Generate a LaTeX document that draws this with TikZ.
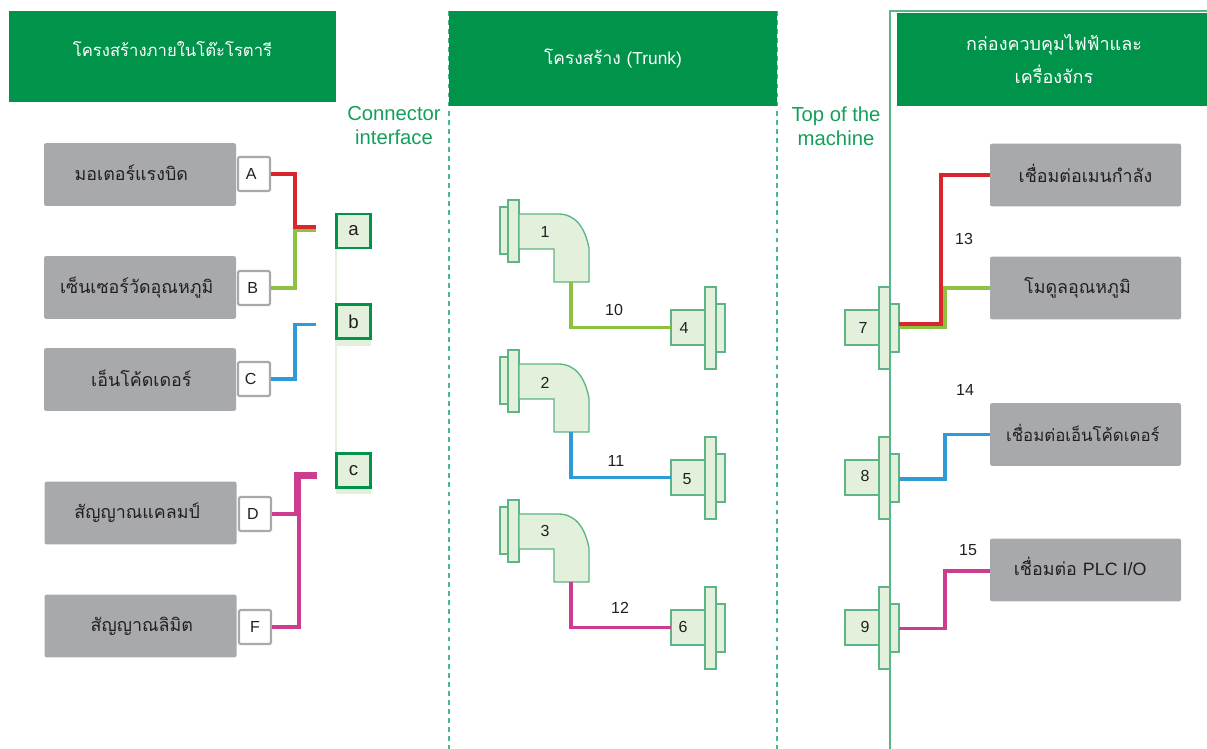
\documentclass[tikz,border=0pt]{standalone}
\usepackage{fontspec}
\setmainfont{Liberation Sans}
\newfontfamily\thaifont[Script=Thai]{Loma}
\usetikzlibrary{positioning}
\definecolor{hdr}{HTML}{00934A}
\definecolor{txtgreen}{HTML}{14A05A}
\definecolor{greybox}{HTML}{A7A9AC}
\definecolor{ink}{HTML}{231F20}
\definecolor{pale}{HTML}{E2F0DC}
\definecolor{edge}{HTML}{5DB585}
\definecolor{sred}{HTML}{D9252E}
\definecolor{sgreen}{HTML}{8DC13F}
\definecolor{sblue}{HTML}{2F9BD6}
\definecolor{smag}{HTML}{CC3D90}
\definecolor{dashc}{HTML}{4DB58F}
\newcommand{\greytext}[2]{\raisebox{2.2pt}{\hspace*{#1pt}#2}}
\tikzset{
 x=0.75pt,y=-0.75pt,
 header/.style={fill=hdr,draw=none,text=white,font=\thaifont\fontsize{13.5}{25}\selectfont,align=center,inner sep=0},
 greyb/.style={fill=greybox,draw=none,rounded corners=1.5pt,minimum width=144pt,minimum height=47pt,inner sep=0,text=ink,font=\thaifont\fontsize{13.4}{15}\selectfont},
 letterb/.style={fill=white,draw=greybox,line width=1.6pt,rounded corners=1pt,minimum width=24pt,minimum height=25.5pt,inner sep=0,text=ink,font=\fontsize{12}{14}\selectfont},
 ifaceb/.style={fill=pale,draw=hdr,line width=1.6pt,minimum width=25.5pt,minimum height=25.5pt,inner sep=0,text=ink,font=\fontsize{14}{16}\selectfont},
 partb/.style={fill=pale,draw=edge,line width=1pt},
 partnum/.style={text=ink,font=\fontsize{12}{14}\selectfont,inner sep=0},
 captext/.style={text=txtgreen,font=\fontsize{15.2}{18}\selectfont,align=center,inner sep=0},
 wire/.style={line width=2.6pt,line join=miter},
 guide/.style={draw=dashc,line width=1pt,dash pattern=on 3.6pt off 3.2pt},
 portpic/.pic={
  \draw[partb] (0,-17.5) rectangle (34,17.5);
  \draw[partb] (34,-40.5) rectangle (45,41.5);
  \draw[partb] (45,-23.5) rectangle (54,24.5);
  \coordinate (-in) at (0,0);
 },
 elbowpic/.pic={
  \draw[partb] (0,7) rectangle (8,54);
  \draw[partb] (8,0) rectangle (19,62);
  \draw[partb] (19,14) -- (58,14) .. controls (76,14) and (85,28) .. (89,48) -- (89,82) -- (54,82) -- (54,49) -- (19,49) -- cycle;
  \coordinate (-out) at (71,82);
 },
}
\begin{document}
\begin{tikzpicture}
\useasboundingbox (0,0) rectangle (1207,749);
\fill[white] (0,0) rectangle (1207,749);
% guides
\coordinate (gl1t) at (449,11);
\coordinate (gl1b) at (449,749);
\coordinate (gl2t) at (777,11);
\coordinate (gl2b) at (777,749);
\draw[guide] (gl1t) -- (gl1b);
\draw[guide] (gl2t) -- (gl2b);
\draw[edge,line width=1.1pt] (890,749) -- (890,11) -- (1207,11);
% headers
\node[header,minimum width=245.25pt,minimum height=68.25pt] (h1) at (172.5,56.5) {\raisebox{11.5pt}{\fontsize{12.5}{22}\selectfont โครงสร้างภายในโต๊ะโรตารี}};
\node[header,minimum width=246pt,minimum height=71.25pt] (h2) at (613,58.5) {\raisebox{2.5pt}{\fontsize{13}{22}\selectfont โครงสร้าง {\fontspec{Liberation Sans}(Trunk)}}};
\node[header,minimum width=232.5pt,minimum height=69.75pt] (h3) at (1052,59.5) {\raisebox{16pt}{\parbox{200pt}{\centering\hspace*{3pt}กล่องควบคุมไฟฟ้าและ\\\hspace*{3pt}เครื่องจักร}}};
% captions
\node[captext] (capL) at (394,126) {Connector\\interface};
\node[captext] (capR) at (836,126) {Top of the\\machine};
% left boxes
\node[greyb] (gA) at (140,174.5) {\greytext{-13}{มอเตอร์แรงบิด}};
\node[greyb] (gB) at (140,287.5) {\greytext{-5}{เซ็นเซอร์วัดอุณหภูมิ}};
\node[greyb] (gC) at (140,379.5) {\greytext{2}{เอ็นโค้ดเดอร์}};
\node[greyb] (gD) at (140.5,513) {\greytext{-5}{สัญญาณแคลมป์}};
\node[greyb] (gF) at (140.5,626) {\greytext{2}{สัญญาณลิมิต}};
\node[letterb] (lA) at (254,174) {\hspace*{-4pt}A};
\node[letterb] (lB) at (254,288) {\hspace*{-2pt}B};
\node[letterb] (lC) at (254,379) {\hspace*{-5pt}C};
\node[letterb] (lD) at (255,514) {\hspace*{-3pt}D};
\node[letterb] (lF) at (255,627) {F};
% interface boxes
\draw[pale,line width=1.2pt] (336,248) -- (336,453);
\fill[pale] (336,340) rectangle (371,346);
\fill[pale] (336,488) rectangle (371,494);
\node[ifaceb] (ia) at (353.5,231) {a};
\node[ifaceb] (ib) at (353.5,321.5) {b};
\node[ifaceb] (ic) at (353.5,470.5) {c};
% free ends
\coordinate (endA) at (316,227);
\coordinate (endB) at (316,230);
\coordinate (endC) at (316,324.5);
\coordinate (endD) at (317,474);
\coordinate (endF) at (317,477);
\draw[wire,sgreen] (lB.east) -| (295,230) -- (endB);
\draw[wire,sred] (lA.east) -| (295,227) -- (endA);
\draw[wire,sblue] (lC.east) -| (295,324.5) -- (endC);
\draw[wire,smag] (lD.east) -| (296,474) -- (endD);
\draw[wire,smag] (lF.east) -| (299,477) -- (endF);
% trunk
\pic (e1) at (500,200) {elbowpic};
\pic (e2) at (500,350) {elbowpic};
\pic (e3) at (500,500) {elbowpic};
\pic (p4) at (671,327.5) {portpic};
\pic (p5) at (671,477.5) {portpic};
\pic (p6) at (671,627.5) {portpic};
\node[partnum] (n1) at (545,232) {1};
\node[partnum] (n2) at (545,383) {2};
\node[partnum] (n3) at (545,531) {3};
\node[partnum] (n4) at (684,328) {4};
\node[partnum] (n5) at (687,479) {5};
\node[partnum] (n6) at (683,627) {6};
\draw[wire,sgreen] (e1-out) |- (p4-in);
\draw[wire,sblue] (e2-out) |- (p5-in);
\draw[wire,smag] (e3-out) |- (p6-in);
\node[partnum] (n10) at (614,310) {10};
\node[partnum] (n11) at (616,461) {11};
\node[partnum] (n12) at (620,608) {12};
% right
\pic (p7) at (845,327.5) {portpic};
\pic (p8) at (845,477.5) {portpic};
\pic (p9) at (845,627.5) {portpic};
\node[partnum] (n7) at (863,328) {7};
\node[partnum] (n8) at (865,476) {8};
\node[partnum] (n9) at (865,627) {9};
\node[greyb,minimum width=143.25pt] (gM) at (1085.5,175) {\greytext{0}{เชื่อมต่อเมนกำลัง}};
\node[greyb,minimum width=143.25pt] (gT) at (1085.5,288) {\greytext{-12}{โมดูลอุณหภูมิ}};
\node[greyb,minimum width=143.25pt,font=\thaifont\fontsize{12.6}{15}\selectfont] (gE) at (1085.5,434.5) {\greytext{-4}{เชื่อมต่อเอ็นโค้ดเดอร์}};
\node[greyb,minimum width=143.25pt] (gP) at (1085.5,570) {\raisebox{4pt}{\greytext{-8}{เชื่อมต่อ {\fontspec{Liberation Sans}PLC I/O}}}};
\coordinate (o7a) at (899,324);
\coordinate (o7b) at (899,327.5);
\coordinate (o8) at (899,479);
\coordinate (o9) at (899,628.5);
\coordinate (i9) at (990,571);
\draw[wire,sgreen] (o7b) -| (945,288) -- (gT.west);
\draw[wire,sred] (o7a) -| (941,175) -- (gM.west);
\draw[wire,sblue] (o8) -| (945,434.5) -- (gE.west);
\draw[wire,smag] (o9) -| (945,571) -- (i9);
\node[partnum] (n13) at (964,239) {13};
\node[partnum] (n14) at (965,390) {14};
\node[partnum] (n15) at (968,550) {15};
\end{tikzpicture}
\end{document}
